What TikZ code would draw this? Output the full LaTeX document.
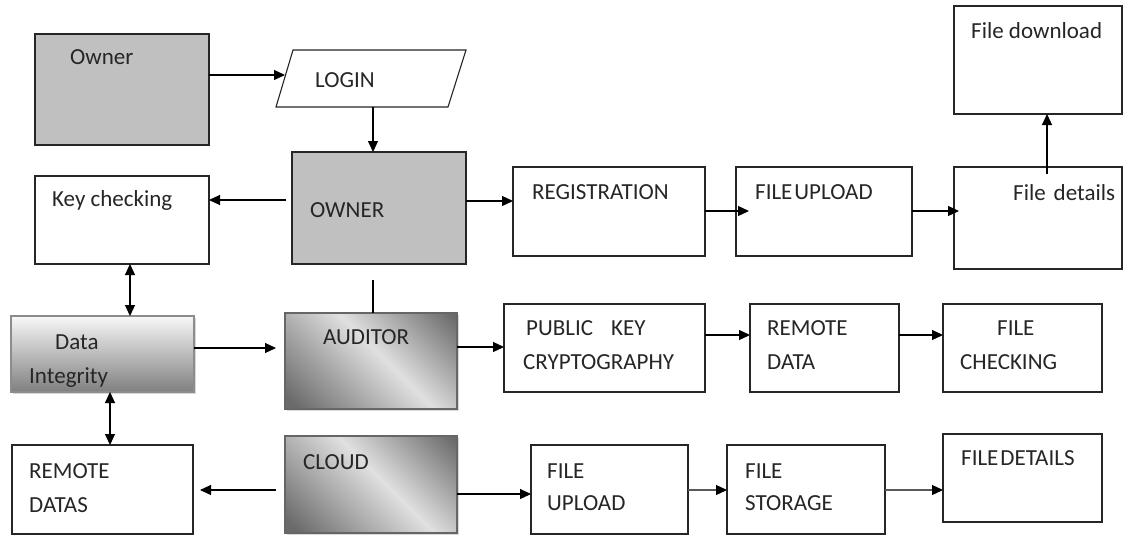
\documentclass[tikz,border=0pt]{standalone}
\usepackage{fontspec}
\setmainfont{Carlito}
\usetikzlibrary{arrows.meta,calc,shadows}
\definecolor{boxgray}{HTML}{C0C0C0}
\definecolor{dk}{HTML}{6A6A6A}
\definecolor{lt}{HTML}{E0E0E0}
\definecolor{txtc}{HTML}{262626}
\pgfdeclarehorizontalshading{refl}{100bp}{color(0bp)=(dk); color(18bp)=(dk); color(54bp)=(lt); color(84bp)=(dk); color(100bp)=(dk)}
\newcommand\mybox[6]{\node[#6,minimum width={(#4-#2)*1pt},minimum height={(#5-#3)*1pt}] (#1) at (#2,#3) {};}
\newcommand\mytxt[4]{\node[txt] (#1) at (#2,#3) {#4};}
\begin{document}
\begin{tikzpicture}[x=1pt,y=-1pt,
 box/.style={draw=black!85, line width=1.1pt, inner sep=0pt, outer sep=0pt, anchor=north west},
 gbox/.style={box, fill=boxgray},
 wbox/.style={box, fill=white},
 dibox/.style={box, draw=black!45, top color=black!3, bottom color=black!50,
   drop shadow={shadow xshift=2pt, shadow yshift=-2pt, opacity=0.3}},
 dgbox/.style={box, draw=black!60, shading=refl, shading angle=45,
   drop shadow={shadow xshift=2pt, shadow yshift=-2pt, opacity=0.3}},
 txt/.style={anchor=base west, inner sep=0pt, font=\fontsize{23}{27}\selectfont, text=txtc},
 arr/.style={-{Triangle[length=11pt,width=10pt,color=black]}, line width=1.1pt},
 dbl/.style={{Triangle[length=11pt,width=10pt]}-{Triangle[length=11pt,width=10pt]}, line width=1.1pt},
 ln/.style={line width=1.1pt}]
\useasboundingbox (0,0) rectangle (1126,536);
\fill[white] (0,0) rectangle (1126,536);

% boxes
\mybox{owner}{35}{34}{209}{145}{gbox}
\node[inner sep=0pt, outer sep=0pt, anchor=north west, minimum width=190pt, minimum height=57pt] (login) at (276,50) {};
\draw[line width=1.1pt, draw=black!85] (login.south west) -- ($(login.north west)+(17,0)$) -- (login.north east) -- ($(login.south east)+(-18,0)$) -- cycle;
\mybox{ownerB}{292}{152}{466}{264}{gbox}
\mybox{key}{35}{176}{209}{264}{wbox}
\mybox{reg}{513}{167}{705}{256}{wbox}
\mybox{fu1}{736}{167}{912}{256}{wbox}
\mybox{fdet}{954}{167}{1122}{269}{wbox}
\mybox{fdown}{954}{6}{1122}{114}{wbox}
\mybox{di}{11}{316}{194}{392}{dibox}
\mybox{aud}{285}{313}{457}{409}{dgbox}
\mybox{pk}{504}{304}{705}{392}{wbox}
\mybox{rd}{750}{304}{899}{392}{wbox}
\mybox{fc}{943}{304}{1102}{392}{wbox}
\mybox{rds}{12}{445}{193}{534}{wbox}
\mybox{cloud}{285}{436}{457}{533}{dgbox}
\mybox{fu2}{531}{445}{688}{534}{wbox}
\mybox{fs}{727}{445}{885}{534}{wbox}
\mybox{fd2}{943}{434}{1102}{522}{wbox}

% texts
\mytxt{t1}{70}{64}{Owner}
\mytxt{t2}{315}{87}{LOGIN}
\mytxt{t3}{310}{217}{OWNER}
\mytxt{t4}{52}{206}{Key checking}
\mytxt{t5}{532}{199}{REGISTRATION}
\mytxt{t6}{755}{199}{FILE\hspace{2pt}UPLOAD}
\mytxt{t7}{1013}{200}{File\hspace{8pt}details}
\mytxt{t8}{971}{38}{File download}
\mytxt{t9}{55}{349}{Data}
\mytxt{t10}{29}{383}{Integrity}
\mytxt{t11}{323}{344}{AUDITOR}
\mytxt{t12}{303}{469}{CLOUD}
\mytxt{t13}{29}{478}{REMOTE}
\mytxt{t14}{29}{512}{DATAS}
\mytxt{t15}{526}{335}{PUBLIC\hspace{18pt}KEY}
\mytxt{t16}{523}{369}{CRYPTOGRAPHY}
\mytxt{t17}{767}{335}{REMOTE}
\mytxt{t18}{767}{369}{DATA}
\mytxt{t19}{997}{335}{FILE}
\mytxt{t20}{960}{369}{CHECKING}
\mytxt{t21}{547}{478}{FILE}
\mytxt{t22}{547}{510}{UPLOAD}
\mytxt{t23}{745}{478}{FILE}
\mytxt{t24}{745}{510}{STORAGE}
\mytxt{t25}{961}{465}{FILE\hspace{2pt}DETAILS}

% connectors
\coordinate (c1) at (285,75);
\draw[arr] (owner.east |- c1) -- (c1);
\draw[arr] (login.south -| 373,0) -- (ownerB.north -| 373,0);
\coordinate (c2) at (286,200);
\draw[arr] (c2) -- (key.east |- c2);
\draw[arr] (ownerB.east |- 0,201) -- (reg.west |- 0,201);
\coordinate (c3) at (749,211);
\draw[arr] (reg.east |- c3) -- (c3);
\coordinate (c4) at (959,211);
\draw[arr] (fu1.east |- c4) -- (c4);
\coordinate (c5) at (1047,174);
\draw[arr] (c5) -- (fdown.south -| c5);
\draw[dbl] (key.south -| 130,0) -- (di.north -| 130,0);
\coordinate (c6) at (373,280);
\draw[ln] (c6) -- (aud.north -| c6);
\coordinate (c7) at (276,348);
\draw[arr] (di.east |- c7) -- (c7);
\draw[arr] (aud.east |- 0,347) -- (pk.west |- 0,347);
\draw[arr] (pk.east |- 0,335) -- (rd.west |- 0,335);
\draw[arr] (rd.east |- 0,335) -- (fc.west |- 0,335);
\draw[dbl] (di.south -| 110,0) -- (rds.north -| 110,0);
\coordinate (c8) at (276,490);
\draw[arr, shorten >=7pt] (c8) -- (rds.east |- c8);
\draw[arr] (cloud.east |- 0,494) -- (fu2.west |- 0,494);
\draw[arr, draw=black!65] (fu2.east |- 0,490) -- (fs.west |- 0,490);
\draw[arr, draw=black!65] (fs.east |- 0,490) -- (fd2.west |- 0,490);
\end{tikzpicture}
\end{document}
